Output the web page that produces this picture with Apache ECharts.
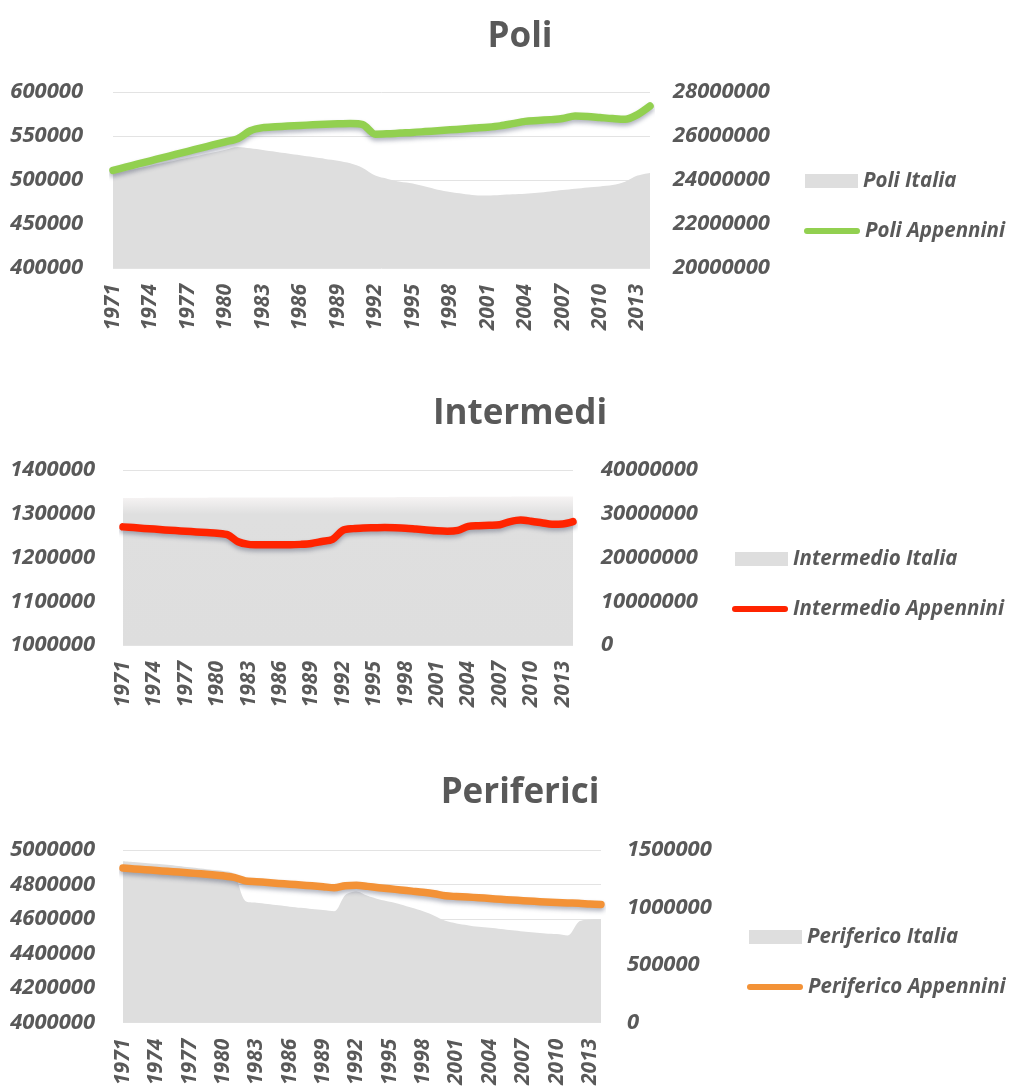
<!DOCTYPE html>
<html>
<head>
<meta charset="utf-8">
<script src="https://cdn.jsdelivr.net/npm/echarts@6/dist/echarts.min.js"></script>
<style>
  html, body { margin: 0; padding: 0; background: #ffffff; }
  #chart { width: 1012px; height: 1088px; }
</style>
</head>
<body>
<div id="chart"></div>
<script>
// Years shown on every category axis
const years = ['1971','1972','1973','1974','1975','1976','1977','1978','1979','1980',
  '1981','1982','1983','1984','1985','1986','1987','1988','1989','1990',
  '1991','1992','1993','1994','1995','1996','1997','1998','1999','2000',
  '2001','2002','2003','2004','2005','2006','2007','2008','2009','2010',
  '2011','2012','2013','2014'];

// Poli: Italia (right axis, area) and Appennini (left axis, line)
const poliItalia = [24290000,24410000,24530000,24650000,24770000,24890000,25010000,25130000,25250000,25380000,
  25500000,25440000,25360000,25280000,25200000,25120000,25040000,24960000,24880000,24760000,
  24550000,24200000,24050000,23920000,23840000,23700000,23560000,23460000,23380000,23310000,
  23300000,23320000,23350000,23380000,23420000,23480000,23540000,23600000,23660000,23710000,
  23770000,23920000,24200000,24320000];
const poliAppennini = [511000,514600,518200,521800,525400,529000,532600,536200,539800,543400,
  547000,556000,559500,560500,561300,562000,562700,563300,563800,564100,
  563000,552000,552500,553300,554000,555000,556000,557000,558000,559000,
  560000,561500,564000,566600,567600,568600,569800,572700,572200,571000,
  569800,569000,574300,584000];

// Intermedi: Italia (right axis, area) and Appennini (left axis, line)
const intermedioItalia = [33600000,33610000,33620000,33630000,33640000,33650000,33660000,33670000,33680000,33690000,
  33700000,33700000,33700000,33710000,33710000,33720000,33720000,33730000,33730000,33740000,
  33740000,33750000,33760000,33770000,33780000,33790000,33800000,33810000,33820000,33830000,
  33840000,33850000,33860000,33870000,33880000,33890000,33900000,33910000,33920000,33930000,
  33940000,33950000,33960000,33970000];
const intermedioAppennini = [1270000,1268500,1266500,1265000,1263000,1261500,1260000,1258500,1257000,1255500,
  1252000,1236000,1230000,1229000,1229000,1229000,1229000,1230000,1232000,1236500,
  1241000,1262000,1266000,1267500,1268000,1268500,1268000,1267000,1265000,1263000,
  1261000,1260000,1262000,1271000,1272500,1273500,1275000,1282000,1285500,1283000,
  1279500,1276000,1276500,1282000];

// Periferici: Italia (left axis, area) and Appennini (right axis, line)
const perifericoItalia = [4935000,4930000,4925000,4920000,4915000,4908000,4900000,4893000,4885000,4878000,
  4860000,4705000,4695000,4688000,4680000,4672000,4665000,4658000,4652000,4645000,
  4740000,4760000,4735000,4715000,4700000,4685000,4665000,4645000,4620000,4590000,
  4575000,4565000,4555000,4550000,4543000,4535000,4528000,4522000,4517000,4513000,
  4505000,4585000,4598000,4600000];
const perifericoAppennini = [1343000,1336000,1329000,1322000,1315000,1309000,1301000,1293000,1285000,1276000,
  1262000,1232000,1225000,1218000,1210000,1203000,1196000,1189000,1181000,1172000,
  1190000,1194000,1184000,1173000,1163000,1153000,1143000,1133000,1120000,1102000,
  1096000,1091000,1086000,1079000,1072000,1066000,1060000,1054000,1048000,1044000,
  1040000,1037000,1031000,1027000];

// Axis ranges: [min, max, step]
const poliLeftRange = [400000, 600000, 50000];
const poliRightRange = [20000000, 28000000, 2000000];
const interLeftRange = [1000000, 1400000, 100000];
const interRightRange = [0, 40000000, 10000000];
const perifLeftRange = [4000000, 5000000, 200000];
const perifRightRange = [0, 1500000, 500000];

const TEXT = '#595959';
const FONT = '"Open Sans", "DejaVu Sans", sans-serif';
const GREY = '#dedede';
const labelStyle = size => ({ color: TEXT, fontFamily: FONT, fontWeight: 'bold', fontStyle: 'italic', fontSize: size });

function xAxisFor(gridIndex) {
  return {
    type: 'category', gridIndex, data: years, boundaryGap: false,
    axisLine: { show: false }, axisTick: { show: false },
    axisLabel: Object.assign({ interval: 2, rotate: 90, margin: 16 }, labelStyle(21))
  };
}
function yAxisFor(gridIndex, range, position, grid, margin) {
  return {
    type: 'value', gridIndex, position,
    min: range[0], max: range[1], interval: range[2],
    axisLine: { show: false }, axisTick: { show: false },
    splitLine: { show: grid, lineStyle: { color: '#e3e3e3', width: 1 } },
    axisLabel: Object.assign({ margin, formatter: v => String(v) }, labelStyle(22))
  };
}
function areaSeries(name, data, xi, yi, fill) {
  return {
    name, type: 'line', xAxisIndex: xi, yAxisIndex: yi, data,
    color: GREY, symbol: 'none', smooth: 0.3,
    lineStyle: { width: 0 },
    areaStyle: { color: fill || GREY, opacity: 1, origin: 'start' },
    z: 1
  };
}
function lineSeries(name, data, xi, yi, color) {
  return {
    name, type: 'line', xAxisIndex: xi, yAxisIndex: yi, data,
    color, symbol: 'none', smooth: 0.3,
    lineStyle: { width: 7.5, color, cap: 'round', join: 'round',
      shadowColor: 'rgba(40,50,80,0.35)', shadowBlur: 4, shadowOffsetY: 3 },
    z: 3
  };
}
function titleFor(text, top) {
  return { text, left: 515, top, textAlign: 'center',
    textStyle: { color: TEXT, fontFamily: FONT, fontWeight: 'bold', fontSize: 35 } };
}
const capsule = 'path://M3,0 L53,0 A3,3 0 0 1 53,6 L3,6 A3,3 0 0 1 3,0 Z';
function legendBox(name, left, top, kind) {
  return {
    data: [name], orient: 'vertical', left, top, padding: 0,
    itemWidth: kind === 'line' ? 56 : 53, itemHeight: kind === 'line' ? 6 : 14,
    icon: kind === 'line' ? capsule : 'rect',
    selectedMode: false,
    textStyle: labelStyle(20.5)
  };
}

// Intermedio Italia area fades out towards its upper edge
const fadedGrey = new echarts.graphic.LinearGradient(0, 0, 0, 1, [
  { offset: 0, color: '#f7f4f4' },
  { offset: 0.06, color: '#ebeaea' },
  { offset: 0.12, color: '#dfdfdf' },
  { offset: 1, color: GREY }
]);

const chart = echarts.init(document.getElementById('chart'), null, { renderer: 'canvas' });
chart.setOption({
  animation: false,
  backgroundColor: '#ffffff',
  title: [
    titleFor('Poli', 15),
    titleFor('Intermedi', 392),
    titleFor('Periferici', 771)
  ],
  legend: [
    legendBox('Poli Italia', 805, 171, 'area'),
    legendBox('Poli Appennini', 804, 221, 'line'),
    legendBox('Intermedio Italia', 735, 549, 'area'),
    legendBox('Intermedio Appennini', 732, 599, 'line'),
    legendBox('Periferico Italia', 749, 927, 'area'),
    legendBox('Periferico Appennini', 747, 977, 'line')
  ],
  grid: [
    { left: 113, right: 362, top: 92, height: 176 },
    { left: 123, right: 439, top: 470, height: 175 },
    { left: 123, right: 411, top: 850, height: 175 }
  ],
  xAxis: [xAxisFor(0), xAxisFor(1), xAxisFor(2)],
  yAxis: [
    yAxisFor(0, poliLeftRange, 'left', true, 30),
    yAxisFor(0, poliRightRange, 'right', false, 23),
    yAxisFor(1, interLeftRange, 'left', true, 28),
    yAxisFor(1, interRightRange, 'right', false, 28),
    yAxisFor(2, perifLeftRange, 'left', true, 28),
    yAxisFor(2, perifRightRange, 'right', false, 26)
  ],
  series: [
    areaSeries('Poli Italia', poliItalia, 0, 1),
    lineSeries('Poli Appennini', poliAppennini, 0, 0, '#92d050'),
    areaSeries('Intermedio Italia', intermedioItalia, 1, 3, fadedGrey),
    lineSeries('Intermedio Appennini', intermedioAppennini, 1, 2, '#ff2400'),
    areaSeries('Periferico Italia', perifericoItalia, 2, 4),
    lineSeries('Periferico Appennini', perifericoAppennini, 2, 5, '#f39237')
  ]
});
</script>
</body>
</html>
